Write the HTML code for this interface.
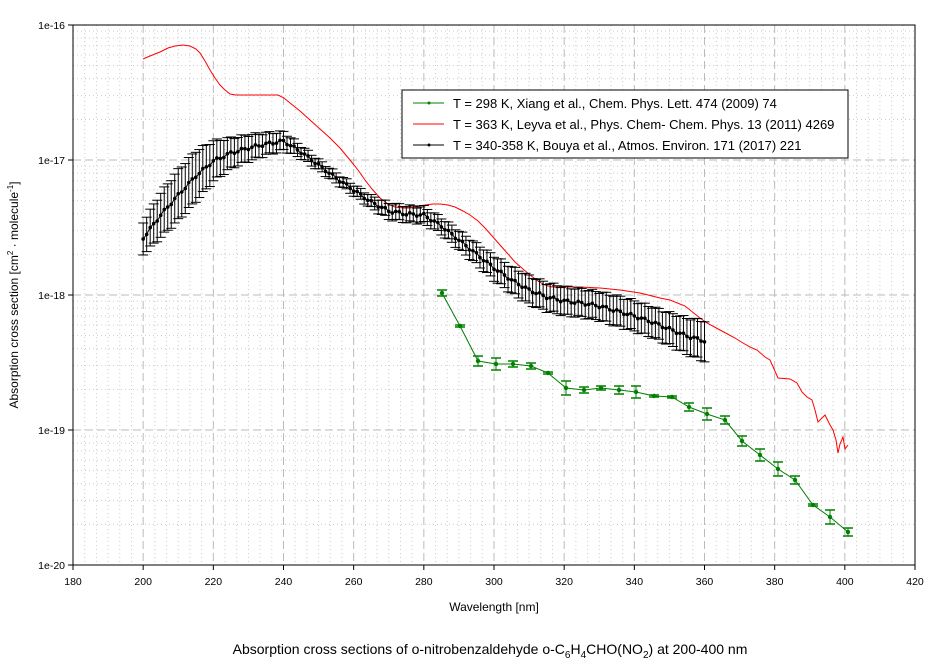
<!DOCTYPE html>
<html><head><meta charset="utf-8"><style>
body{margin:0;background:#fff;width:944px;height:667px;overflow:hidden}
svg{display:block;font-family:"Liberation Sans",sans-serif}
</style></head><body>
<svg id="s" width="944" height="667" xmlns="http://www.w3.org/2000/svg">
<g id="grid"></g>
<g id="data"></g>
<rect x="73" y="25" width="842" height="540" fill="none" stroke="#000" stroke-width="1"/>
<g id="ax" font-size="10.5"></g>
<text x="494" y="611" font-size="12" text-anchor="middle">Wavelength [nm]</text>
<text transform="translate(18,295) rotate(-90)" font-size="12" text-anchor="middle">Absorption cross section [cm<tspan dy="-5" font-size="8">2</tspan><tspan dy="5"> · molecule</tspan><tspan dy="-5" font-size="8">-1</tspan><tspan dy="5">]</tspan></text>
<text x="490" y="654" font-size="14" text-anchor="middle">Absorption cross sections of o-nitrobenzaldehyde o-C<tspan dy="4" font-size="10">6</tspan><tspan dy="-4">H</tspan><tspan dy="4" font-size="10">4</tspan><tspan dy="-4">CHO(NO</tspan><tspan dy="4" font-size="10">2</tspan><tspan dy="-4">) at 200-400 nm</tspan></text>
<rect x="402" y="90" width="446" height="68" fill="#fff" stroke="#000"/>
<line x1="413" y1="103" x2="444" y2="103" stroke="#008000"/><circle cx="429" cy="103" r="1.5" fill="#008000"/>
<line x1="413" y1="124" x2="444" y2="124" stroke="#f00"/>
<line x1="413" y1="145" x2="444" y2="145" stroke="#000"/><circle cx="429" cy="145" r="1.5" fill="#000"/>
<g font-size="13"><text x="453" y="108">T = 298 K, Xiang et al., Chem. Phys. Lett. 474 (2009) 74</text>
<text x="453" y="129">T = 363 K, Leyva et al., Phys. Chem- Chem. Phys. 13 (2011) 4269</text>
<text x="453" y="150">T = 340-358 K, Bouya et al., Atmos. Environ. 171 (2017) 221</text></g>
</svg>
<script>
var NS="http://www.w3.org/2000/svg";
function el(p,t,a){var e=document.createElementNS(NS,t);for(var k in a)e.setAttribute(k,a[k]);p.appendChild(e);return e;}
var X=function(n){return 73+(n-180)*842/240;};
var g=document.getElementById('grid'),ax=document.getElementById('ax'),d=document.getElementById('data');
for(var n=180;n<=420;n+=20/6){var x=X(n);var maj=Math.abs((n-180)/20-Math.round((n-180)/20))<1e-6;
 el(g,'line',{x1:x,y1:25,x2:x,y2:565,stroke:maj?'#bbb':'#ccc','stroke-width':1,'stroke-dasharray':maj?'8,4':'1,3'});}
for(var dec=0;dec<4;dec++){var y0=565-dec*135;
 for(var m=2;m<=9;m++){var y=y0-Math.log10(m)*135;el(g,'line',{x1:73,y1:y,x2:915,y2:y,stroke:'#ccc','stroke-dasharray':'1,3'});}}
for(var dec=1;dec<4;dec++){var y=565-dec*135;el(g,'line',{x1:73,y1:y,x2:915,y2:y,stroke:'#bbb','stroke-dasharray':'8,4'});}
for(var i=0;i<=12;i++){var n=180+i*20,x=X(n);el(ax,'line',{x1:x,y1:565,x2:x,y2:570,stroke:'#000'});var t=el(ax,'text',{x:x,y:585,'text-anchor':'middle'});t.textContent=n;}
for(var i=0;i<=4;i++){var y=565-i*135;el(ax,'line',{x1:68,y1:y,x2:73,y2:y,stroke:'#000'});var t=el(ax,'text',{x:65,y:y+4,'text-anchor':'end'});t.textContent='1e-'+(20-i);}
var red=[[143,59],[150,56],[160,52],[168,48],[175,46],[183,45],[190,46],[196,49],[200,53],[205,61],[210,70],[215,78],[220,85],[225,90],[230,94],[236,95],[278,95],[284,98],[290,103],[300,111],[310,120],[320,129],[330,138],[340,148],[350,160],[358,170],[365,180],[372,189],[380,198],[388,204],[395,207],[403,208],[410,208],[418,206],[425,205],[433,204],[440,204],[448,205],[455,207],[463,211],[470,215],[478,221],[485,228],[493,237],[500,245],[508,254],[515,262],[523,269],[530,275],[538,281],[545,285],[552,287],[560,287],[580,287],[600,288],[620,290],[640,293],[660,298],[670,300],[685,306],[700,318],[707,323],[720,330],[735,338],[743,343],[750,347],[757,350],[765,357],[770,360],[778,378],[790,379],[797,383],[802,392],[807,397],[812,400],[815,410],[818,422],[822,418],[825,415],[830,425],[833,430],[836,440],[838,453],[840,444],[843,437],[845,449],[848,445]];
el(d,'polyline',{points:red.join(' '),fill:'none',stroke:'#f00','stroke-width':1});
var bk=[[200,238,16],[205,215,22],[210,195,25],[215,176,25],[220,161,20],[225,153,15],[230,148,13],[235,144,11],[240,141,9],[245,152,6],[250,165,5],[255,178,5],[260,190,5],[265,202,6],[270,211,8],[275,214,8],[280,215,8],[285,226,8],[290,240,9],[295,254,10],[300,268,12],[305,280,13],[310,290,14],[315,297,14],[320,301,14],[325,303,14],[330,306,14],[335,311,15],[340,316,15],[345,322,15],[350,329,16],[355,336,18],[360,341,20]];
function interp(n){for(var i=0;i<bk.length-1;i++){if(n<=bk[i+1][0]){var f=(n-bk[i][0])/(bk[i+1][0]-bk[i][0]);return [bk[i][1]+f*(bk[i+1][1]-bk[i][1]),bk[i][2]+f*(bk[i+1][2]-bk[i][2])];}}return [bk[bk.length-1][1],bk[bk.length-1][2]];}
var pts=[];
for(var n=200;n<=360;n++){var v=interp(n),x=X(n),y=v[0]+Math.sin(n*1.7)*1.5,e=v[1];pts.push(x+','+y);
 el(d,'line',{x1:x,y1:y-e,x2:x,y2:y+e,stroke:'#000'});el(d,'line',{x1:x-5,y1:y-e,x2:x+5,y2:y-e,stroke:'#000'});el(d,'line',{x1:x-5,y1:y+e,x2:x+5,y2:y+e,stroke:'#000'});}
el(d,'polyline',{points:pts.join(' '),fill:'none',stroke:'#000'});
for(var n=200;n<=360;n++){var v=interp(n);el(d,'circle',{cx:X(n),cy:v[0]+Math.sin(n*1.7)*1.5,r:1.8,fill:'#000'});}
var gr=[[442,293,3],[460,326,1],[478,361,5],[496,364,6],[513,364,3],[531,366,3],[548,373,1],[566,388,7],[584,390,3],[601,388,2],[619,390,4],[636,392,6],[654,396,1],[672,397,1],[689,407,4],[707,414,6],[725,420,4],[742,441,5],[760,455,6],[778,469,7],[795,480,4],[813,505,1],[830,517,7],[848,532,4]];
el(d,'polyline',{points:gr.map(function(p){return p[0]+','+p[1]}).join(' '),fill:'none',stroke:'#008000'});
gr.forEach(function(p){var x=p[0],y=p[1],e=p[2];el(d,'line',{x1:x,y1:y-e,x2:x,y2:y+e,stroke:'#008000'});el(d,'line',{x1:x-5,y1:y-e,x2:x+5,y2:y-e,stroke:'#008000','stroke-width':1.5});el(d,'line',{x1:x-5,y1:y+e,x2:x+5,y2:y+e,stroke:'#008000','stroke-width':1.5});el(d,'circle',{cx:x,cy:y,r:2.2,fill:'#008000'});});
</script>
</body></html>
